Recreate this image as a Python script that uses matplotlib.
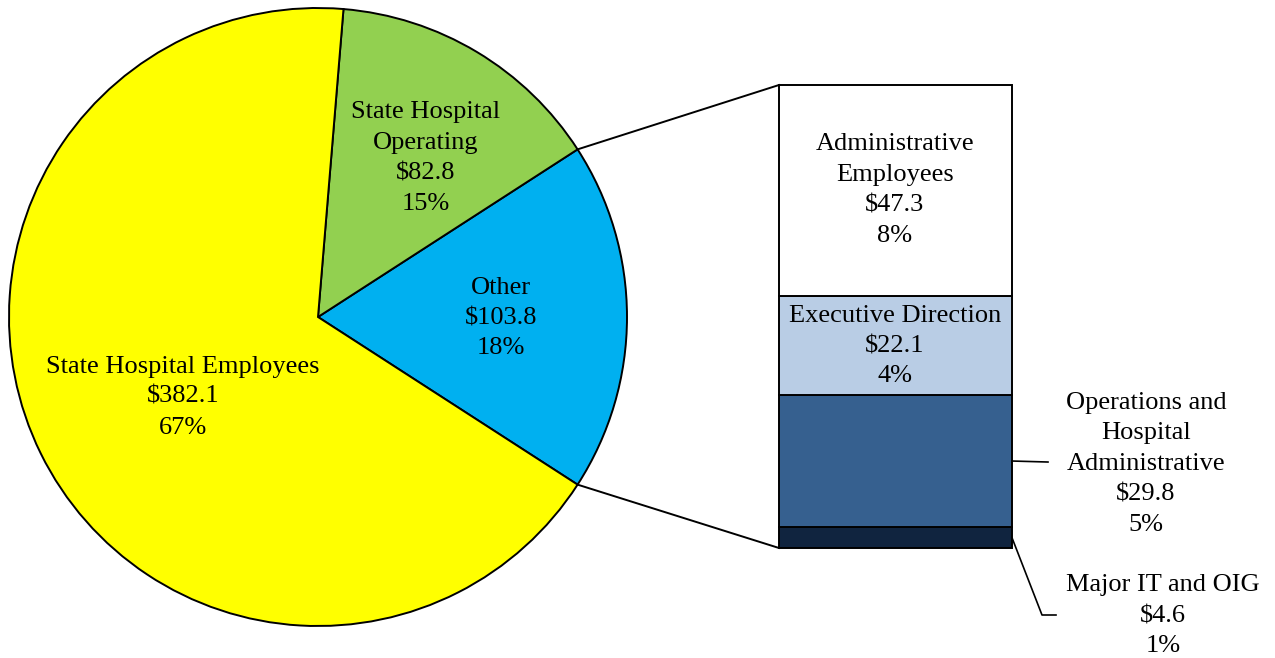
import numpy as np
import matplotlib
matplotlib.use("Agg")
import matplotlib.pyplot as plt

plt.rcParams["font.family"] = ["Liberation Serif", "DejaVu Serif"]

# Pie data ($ millions)
pie_labels = ["Other", "State Hospital\nOperating", "State Hospital Employees"]
pie_values = [103.8, 82.8, 382.1]
pie_colors = ["#00B0F0", "#92D050", "#FFFF00"]

# Breakdown of "Other", bottom to top
bar_labels = ["Major IT and OIG", "Operations and\nHospital\nAdministrative",
              "Executive Direction", "Administrative\nEmployees"]
bar_values = [4.6, 29.8, 22.1, 47.3]
bar_colors = ["#10243F", "#36608F", "#B9CDE5", "#FFFFFF"]

W, H = 1275, 658
total = sum(pie_values)


def label(name, v):
    return f"{name}\n${v:.1f}\n{round(v / total * 100):.0f}%"


fig = plt.figure(figsize=(W / 100, H / 100), dpi=100)
ax = fig.add_axes([0, 0, 1, 1])
ax.set_zorder(2)

cx, cy, r = 318, H - 317, 309
other_ang = pie_values[0] / total * 360
ax.pie(pie_values, colors=pie_colors, startangle=-other_ang / 2, counterclock=True,
       center=(cx, cy), radius=r,
       wedgeprops=dict(edgecolor="black", linewidth=1.4))
ax.set_xlim(0, W)
ax.set_ylim(0, H)
ax.set_aspect("equal")
ax.axis("off")

fs = 19
ls = 1.5
ax.text(183, H - 397, label(pie_labels[2], pie_values[2]), ha="center", va="center",
        fontsize=fs, linespacing=ls)
ax.text(426, H - 158, label(pie_labels[1], pie_values[1]), ha="center", va="center",
        fontsize=fs, linespacing=ls)
ax.text(501, H - 318, label(pie_labels[0], pie_values[0]), ha="center", va="center",
        fontsize=fs, linespacing=ls)

# bar of pie
bx0, bx1, by_top, by_bot = 779, 1012, 85, 548
bax = fig.add_axes([bx0 / W, (H - by_bot) / H, (bx1 - bx0) / W, (by_bot - by_top) / H])
bax.set_zorder(1)
bottoms = np.concatenate([[0], np.cumsum(bar_values)[:-1]])
bax.bar(0, bar_values, bottom=bottoms, width=1, color=bar_colors,
        edgecolor="black", linewidth=1.4)
bax.set_xlim(-0.5, 0.5)
bax.set_ylim(0, sum(bar_values))
bax.axis("off")
for a in bax.patches:
    a.set_clip_on(False)

# connector lines from pie edge to bar corners
half = np.deg2rad(other_ang / 2)
for sgn, yb in [(1, by_top), (-1, by_bot)]:
    px, py = cx + r * np.cos(half), cy + sgn * r * np.sin(half)
    ax.plot([px, bx0], [py, H - yb], color="black", lw=1.4)

# labels in the bar
scale = (by_bot - by_top) / sum(bar_values)
mids = [by_bot - (b + v / 2) * scale for b, v in zip(bottoms, bar_values)]
ax.text(895, H - 190, label(bar_labels[3], bar_values[3]), ha="center", va="center",
        fontsize=fs, linespacing=ls)
ax.text(895, H - 346, label(bar_labels[2], bar_values[2]), ha="center", va="center",
        fontsize=fs, linespacing=ls)

# outside labels with leaders
ax.plot([bx1, 1048], [H - mids[1], H - mids[1] - 1], color="black", lw=1.2)
ax.text(1146, H - 464, label(bar_labels[1], bar_values[1]), ha="center", va="center",
        fontsize=fs, linespacing=ls)
ax.plot([bx1, 1042, 1056], [H - mids[0], H - 615, H - 615], color="black", lw=1.2)
ax.text(1163, H - 616, label(bar_labels[0], bar_values[0]), ha="center", va="center",
        fontsize=fs, linespacing=ls)

fig.savefig("out.png", dpi=100, facecolor="white")
